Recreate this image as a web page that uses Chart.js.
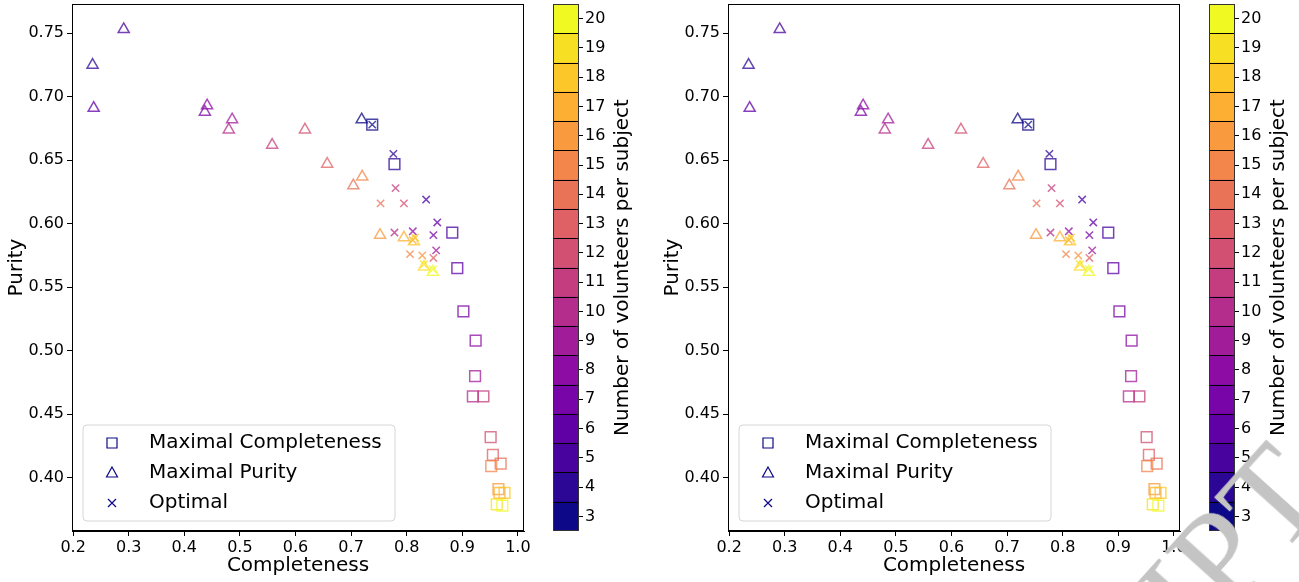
<!DOCTYPE html>
<html>
<head>
<meta charset="utf-8">
<script src="https://cdn.jsdelivr.net/npm/chart.js@4.4.1/dist/chart.umd.min.js"></script>
<style>
  body { margin: 0; background: #fff; width: 1299px; height: 582px; overflow: hidden; position: relative; font-family: "DejaVu Sans", sans-serif; }
  canvas { position: absolute; top: 0; }
  .wm { position: absolute; left: 350px; top: 377px; width: 1000px; text-align: right; white-space: nowrap;
        font-family: "Liberation Serif", serif; font-size: 135px; line-height: 135px; color: #c4c4c4;
        transform-origin: 100% 100%; transform: rotate(-48deg); pointer-events: none; }
</style>
</head>
<body>
<canvas id="scatter1" width="545" height="582" style="left:0"></canvas>
<canvas id="cbar1" width="110" height="582" style="left:545px"></canvas>
<canvas id="scatter2" width="545" height="582" style="left:656px"></canvas>
<canvas id="cbar2" width="110" height="582" style="left:1201px"></canvas>
<div class="wm">MANUSCRIPT</div>
<script>
// volunteers per subject: 3..20
const volunteers = [3,4,5,6,7,8,9,10,11,12,13,14,15,16,17,18,19,20];

// Maximal Completeness (squares)
const mcComp = [0.738,0.778,0.882,0.891,0.902,0.924,0.923,0.919,0.938,0.951,0.955,0.969,0.952,0.965,0.967,0.976,0.962,0.972];
const mcPur  = [0.678,0.647,0.593,0.565,0.531,0.508,0.480,0.464,0.464,0.432,0.418,0.411,0.409,0.391,0.388,0.388,0.379,0.378];

// Maximal Purity (triangles)
const mpComp = [0.719,0.235,0.291,0.237,0.437,0.441,0.486,0.480,0.558,0.617,0.657,0.704,0.720,0.752,0.795,0.813,0.831,0.847];
const mpPur  = [0.682,0.725,0.753,0.691,0.688,0.693,0.682,0.674,0.662,0.674,0.647,0.630,0.637,0.591,0.589,0.586,0.566,0.562];

// Optimal (crosses)
const opComp = [0.738,0.776,0.835,0.855,0.848,0.811,0.853,0.778,0.780,0.795,0.848,0.753,0.806,0.828,0.811,0.815,0.831,0.847];
const opPur  = [0.678,0.655,0.619,0.601,0.591,0.594,0.579,0.593,0.628,0.616,0.573,0.616,0.576,0.575,0.587,0.589,0.568,0.564];

const xTicks = [0.2,0.3,0.4,0.5,0.6,0.7,0.8,0.9,1.0];
const yTicks = [0.40,0.45,0.50,0.55,0.60,0.65,0.70,0.75];

const plasma = [[13,8,135],[65,4,157],[106,0,168],[143,13,164],[177,42,144],[204,71,120],[225,100,98],[242,132,75],[252,166,54],[252,206,37],[240,249,33]];

function cmap(v, a) {
  const t = (v - 3) / 17 * 10;
  const i = Math.min(9, Math.floor(t)), f = t - i;
  const c = plasma[i].map((p, k) => Math.round(p + (plasma[i + 1][k] - p) * f));
  return a === undefined ? `rgb(${c})` : `rgba(${c},${a})`;
}

const pts = (xs, ys) => xs.map((x, i) => ({ x: x, y: ys[i] }));
const ALPHA = 0.75;

// no extra room for edge tick labels, keep the axes box where it is
const noPad = s => { s.paddingTop = 0; s.paddingBottom = 0; s.paddingLeft = 0; s.paddingRight = 0; };

const boxPlugin = {
  id: 'box',
  afterDraw(chart) {
    const a = chart.chartArea, ctx = chart.ctx;
    ctx.save();
    ctx.strokeStyle = '#000';
    ctx.lineWidth = 1;
    ctx.strokeRect(a.left + 0.5, a.top + 0.5, a.right - a.left - 1, a.bottom - a.top - 1);
    ctx.restore();
  }
};

const legendPlugin = {
  id: 'boxLegend',
  afterDraw(chart) {
    const a = chart.chartArea, ctx = chart.ctx;
    const bx = a.left + 11, by = a.bottom - 106, bw = 312, bh = 96, r = 4;
    ctx.save();
    ctx.beginPath();
    ctx.moveTo(bx + r, by);
    ctx.arcTo(bx + bw, by, bx + bw, by + bh, r);
    ctx.arcTo(bx + bw, by + bh, bx, by + bh, r);
    ctx.arcTo(bx, by + bh, bx, by, r);
    ctx.arcTo(bx, by, bx + bw, by, r);
    ctx.closePath();
    ctx.fillStyle = 'rgba(255,255,255,0.8)';
    ctx.fill();
    ctx.strokeStyle = '#d6d6d6';
    ctx.lineWidth = 1;
    ctx.stroke();
    const col = cmap(3);
    ctx.font = '20px "DejaVu Sans"';
    ctx.textBaseline = 'middle';
    chart.data.datasets.forEach((ds, i) => {
      const y = by + 18 + i * 30, x = bx + 29;
      ctx.strokeStyle = col;
      ctx.lineWidth = 1.2;
      ctx.beginPath();
      if (ds.pointStyle === 'rect') {
        ctx.rect(x - 5, y - 5, 10, 10);
      } else if (ds.pointStyle === 'triangle') {
        ctx.moveTo(x, y - 6); ctx.lineTo(x + 5.5, y + 4); ctx.lineTo(x - 5.5, y + 4); ctx.closePath();
      } else {
        ctx.moveTo(x - 4, y - 4); ctx.lineTo(x + 4, y + 4); ctx.moveTo(x + 4, y - 4); ctx.lineTo(x - 4, y + 4);
      }
      ctx.stroke();
      ctx.fillStyle = '#000';
      ctx.fillText(ds.label, bx + 66, y);
    });
    ctx.restore();
  }
};

function makeScatter(id) {
  new Chart(document.getElementById(id), {
    type: 'scatter',
    data: {
      datasets: [
        { label: 'Maximal Completeness', data: pts(mcComp, mcPur), pointStyle: 'rect', pointRadius: 7.6,
          pointBorderColor: volunteers.map(v => cmap(v, ALPHA)), pointBackgroundColor: 'rgba(0,0,0,0)', pointBorderWidth: 1.5 },
        { label: 'Maximal Purity', data: pts(mpComp, mpPur), pointStyle: 'triangle', pointRadius: 6.4,
          pointBorderColor: volunteers.map(v => cmap(v, ALPHA)), pointBackgroundColor: 'rgba(0,0,0,0)', pointBorderWidth: 1.5 },
        { label: 'Optimal', data: pts(opComp, opPur), pointStyle: 'crossRot', pointRadius: 5.2,
          pointBorderColor: volunteers.map(v => cmap(v, ALPHA)), pointBackgroundColor: 'rgba(0,0,0,0)', pointBorderWidth: 1.5 }
      ]
    },
    options: {
      responsive: false,
      animation: false,
      layout: { autoPadding: false, padding: { left: 0, right: 21, top: 4, bottom: 0 } },
      plugins: { legend: { display: false }, tooltip: { enabled: false } },
      scales: {
        x: {
          type: 'linear', min: 0.198, max: 1.011,
          afterFit: s => { s.height = 51; noPad(s); },
          afterBuildTicks: s => { s.ticks = xTicks.map(v => ({ value: v })); },
          ticks: { color: '#000', font: { family: 'DejaVu Sans', size: 16 }, padding: 2, maxRotation: 0,
                   callback: v => v.toFixed(1) },
          grid: { drawOnChartArea: false, drawTicks: true, tickLength: 5, color: '#000' },
          border: { display: true, color: '#000' },
          title: { display: true, text: 'Completeness', color: '#000', font: { family: 'DejaVu Sans', size: 20 }, padding: { top: 0, bottom: 4 } }
        },
        y: {
          type: 'linear', min: 0.358, max: 0.773,
          afterFit: s => { s.width = 72; noPad(s); },
          afterBuildTicks: s => { s.ticks = yTicks.map(v => ({ value: v })); },
          ticks: { color: '#000', font: { family: 'DejaVu Sans', size: 16 }, padding: 3,
                   callback: v => v.toFixed(2) },
          grid: { drawOnChartArea: false, drawTicks: true, tickLength: 5, color: '#000' },
          border: { display: true, color: '#000' },
          title: { display: true, text: 'Purity', color: '#000', font: { family: 'DejaVu Sans', size: 20 }, padding: { top: 5, bottom: 0 } }
        }
      }
    },
    plugins: [boxPlugin, legendPlugin]
  });
}

const cbarPlugin = {
  id: 'cbarEdges',
  afterDatasetsDraw(chart) {
    const a = chart.chartArea, ctx = chart.ctx, ys = chart.scales.y;
    ctx.save();
    ctx.strokeStyle = '#000';
    ctx.lineWidth = 1;
    volunteers.slice(0, -1).forEach(v => {
      const py = Math.round(ys.getPixelForValue(v + 0.5)) + 0.5;
      ctx.beginPath(); ctx.moveTo(a.left, py); ctx.lineTo(a.right, py); ctx.stroke();
    });
    ctx.strokeStyle = '#333';
    ctx.strokeRect(a.left + 0.5, a.top + 0.5, a.right - a.left - 1, a.bottom - a.top - 1);
    // colorbar label, reading bottom-to-top
    ctx.translate(a.right + 44, (a.top + a.bottom) / 2);
    ctx.rotate(-Math.PI / 2);
    ctx.fillStyle = '#000';
    ctx.font = '20px "DejaVu Sans"';
    ctx.textAlign = 'center';
    ctx.textBaseline = 'middle';
    ctx.fillText('Number of volunteers per subject', 0, 0);
    ctx.restore();
  }
};

function makeColorbar(id) {
  new Chart(document.getElementById(id), {
    type: 'bar',
    data: {
      labels: [''],
      datasets: volunteers.map(v => ({
        data: [[v - 0.5, v + 0.5]], backgroundColor: cmap(v), borderWidth: 0,
        grouped: false, barPercentage: 1, categoryPercentage: 1
      }))
    },
    options: {
      responsive: false,
      animation: false,
      layout: { autoPadding: false, padding: { left: 8, right: 0, top: 4, bottom: 51 } },
      plugins: { legend: { display: false }, tooltip: { enabled: false } },
      scales: {
        x: { display: false },
        y: {
          position: 'right', min: 2.5, max: 20.5,
          afterFit: s => { s.width = 76; noPad(s); },
          afterBuildTicks: s => { s.ticks = volunteers.map(v => ({ value: v })); },
          ticks: { color: '#000', font: { family: 'DejaVu Sans', size: 16 }, padding: 2 },
          grid: { drawOnChartArea: false, drawTicks: true, tickLength: 4, color: '#000' },
          border: { display: false }
        }
      }
    },
    plugins: [cbarPlugin]
  });
}

makeScatter('scatter1');
makeColorbar('cbar1');
makeScatter('scatter2');
makeColorbar('cbar2');
</script>
</body>
</html>
